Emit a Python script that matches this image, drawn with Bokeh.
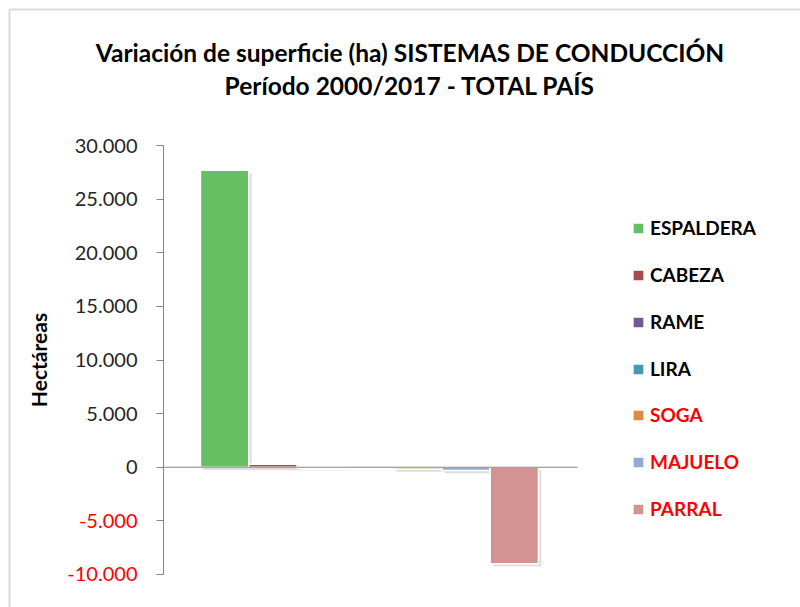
from bokeh.plotting import figure
from bokeh.models import (Range1d, FixedTicker, Legend, LegendItem,
                          Label, LabelSet, ColumnDataSource, BoxAnnotation)
from bokeh.core.properties import value
from bokeh.embed import file_html
from bokeh.resources import INLINE

# ---------------- data ----------------
categories = ["ESPALDERA", "CABEZA", "RAME", "LIRA", "SOGA", "MAJUELO", "PARRAL"]
variation_ha = [27700, 280, -60, -40, -160, -300, -9000]
bar_colors = ["#66BF63", "#A94B4A", "#715A96", "#4599B1", "#DF8A43", "#95A9D0", "#D49393"]
y_ticks = [-10000, -5000, 0, 5000, 10000, 15000, 20000, 25000, 30000]
y_tick_labels = ["-10.000", "-5.000", "0", "5.000", "10.000", "15.000",
                 "20.000", "25.000", "30.000"]
title_line1 = "Variación de superficie (ha) SISTEMAS DE CONDUCCIÓN"
title_line2 = "Período 2000/2017 - TOTAL PAÍS"
y_label = "Hectáreas"

FONT = "Lato"
GREY = "#868686"

# layout (data-space extents of the drawing area)
X_START, X_END = -4.642, 11.928
Y_START, Y_END = -13077, 43520
AXIS_X = -1.266          # where the value axis sits
BASE_END = 7.309         # right end of the zero line

xs = list(range(len(categories)))
src = ColumnDataSource(dict(x=xs, v=variation_ha, c=bar_colors, cat=categories))
shadow_src = ColumnDataSource(dict(
    x=[i + 0.06 for i in xs],
    top=[v - 250 for v in variation_ha],
    bottom=[-250] * len(xs),
))

p = figure(width=800, height=607, output_backend="svg", toolbar_location=None,
           x_range=Range1d(X_START, X_END), y_range=Range1d(Y_START, Y_END),
           min_border_left=0, min_border_right=0, min_border_top=0,
           min_border_bottom=0)
p.xaxis.visible = False
p.xgrid.visible = False
p.ygrid.visible = False
p.outline_line_color = None
p.background_fill_color = "white"
p.border_fill_color = "white"

# y axis
yax = p.yaxis[0]
yax.fixed_location = AXIS_X
yax.bounds = (y_ticks[0], y_ticks[-1])
yax.ticker = FixedTicker(ticks=y_ticks)
yax.major_label_overrides = {t: (l if t >= 0 else "") for t, l in zip(y_ticks, y_tick_labels)}
yax.minor_tick_line_color = None
yax.major_tick_in = 0
yax.major_tick_out = 7
yax.major_tick_line_color = GREY
yax.axis_line_color = GREY
yax.major_label_standoff = 19
yax.major_label_text_font = FONT
yax.major_label_text_font_size = "20px"
yax.major_label_text_color = "#262626"
yax.axis_label = y_label
yax.axis_label_text_font = FONT
yax.axis_label_text_font_style = "bold"
yax.axis_label_text_font_size = "21px"
yax.axis_label_text_color = "black"
yax.axis_label_standoff = 21

# red negative tick labels
neg = [(t, l) for t, l in zip(y_ticks, y_tick_labels) if t < 0]
neg_src = ColumnDataSource(dict(y=[t for t, _ in neg], t=[l for _, l in neg],
                                x=[AXIS_X] * len(neg)))
p.add_layout(LabelSet(x="x", y="y", text="t", source=neg_src, x_offset=-26,
                      text_align="right", text_baseline="middle",
                      text_font=value(FONT), text_font_size="20px",
                      text_color="#FF0000"))

# bars
p.vbar(x="x", top="top", bottom="bottom", width=1, source=shadow_src,
       fill_color="#000000", fill_alpha=0.13, line_color=None)
bars = p.vbar(x="x", top="v", bottom=0, width=1, source=src, fill_color="c",
              line_color="white", line_width=1.5)

# zero line
p.segment(x0=[AXIS_X], x1=[BASE_END], y0=[0], y1=[0], line_color=GREY, line_width=1)

# legends (black and red labels)
def make_legend(idx, color, loc):
    lg = Legend(items=[LegendItem(label=categories[i], renderers=[bars], index=i) for i in idx],
                location=loc, orientation="vertical",
                label_text_font=FONT, label_text_font_style="bold",
                label_text_font_size="19px", label_text_color=color,
                glyph_width=14, glyph_height=14, label_height=20, spacing=24,
                padding=0, margin=0, label_standoff=5,
                border_line_color=None, background_fill_alpha=0)
    p.add_layout(lg, "center")

make_legend([0, 1, 2, 3], "#000000", (631, 227))
make_legend([4, 5, 6], "#FF0000", (631, 87))

# title
for txt, ty in ((title_line1, 555), (title_line2, 522)):
    p.add_layout(Label(x=409.5, y=ty, x_units="screen", y_units="screen", text=txt,
                       text_align="center", text_baseline="alphabetic",
                       text_font=FONT, text_font_style="bold",
                       text_font_size="24.5px", text_color="black"))

# chart frame border
p.add_layout(BoxAnnotation(left=9, right=900, bottom=-100, top=598,
                           left_units="screen", right_units="screen",
                           bottom_units="screen", top_units="screen",
                           fill_alpha=0, line_color="#8C8C8C", line_width=2))

open("out.html", "w").write(file_html(p, INLINE))
